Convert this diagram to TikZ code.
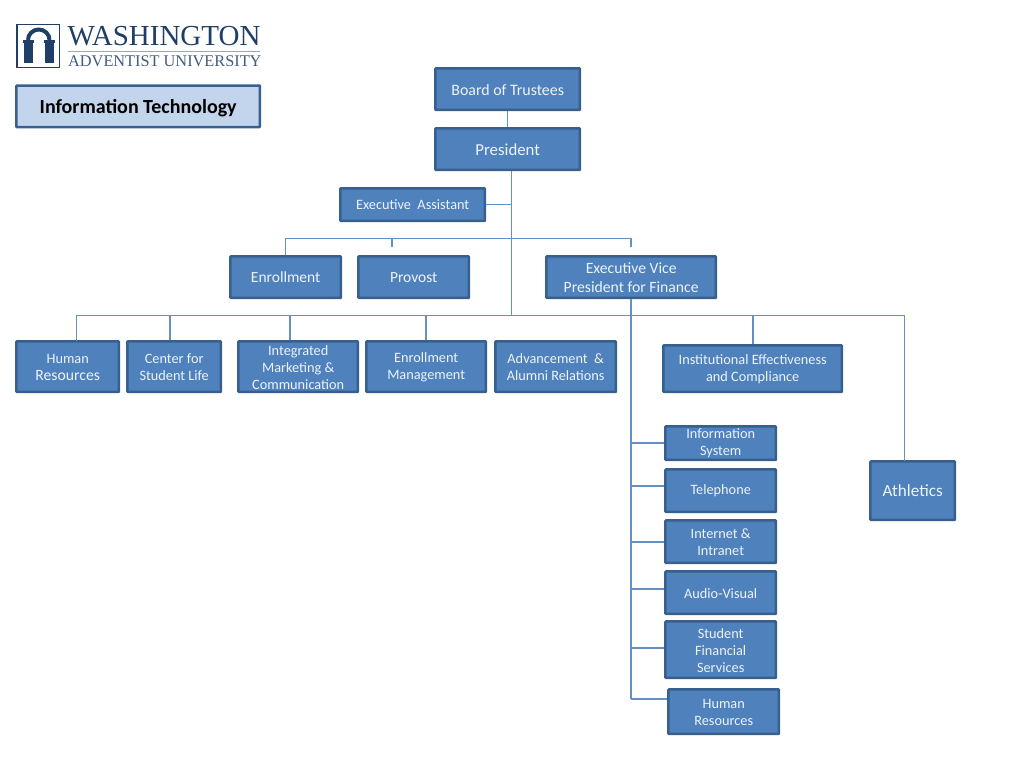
\documentclass[tikz,border=0pt]{standalone}
\usepackage{fontspec}
\setmainfont{Carlito}
\newfontfamily\logofont{Liberation Serif}
\definecolor{boxfill}{HTML}{4F81BD}
\definecolor{boxedge}{HTML}{37608F}
\definecolor{linecol}{HTML}{6490C4}
\definecolor{itfill}{HTML}{C3D5EC}
\definecolor{logoblue}{HTML}{1F3F66}
\tikzset{
  orgbox/.style={draw=boxedge,line width=2.5pt,fill=boxfill,inner sep=0pt,rounded corners=0.6pt},
  orgtext/.style={text=white!90!boxfill,align=center,inner sep=0pt,font=\fontsize{14.3}{17}\selectfont},
  link/.style={draw=linecol,line width=1.2pt},
}
\newcommand{\orgnode}[7][]{%
  \node[orgbox,minimum width=#4pt-#2pt-1.5pt,minimum height=#5pt-#3pt-1.5pt,
    label={[orgtext,anchor=center,yshift=-0.4pt,#1]center:{#7}}] (#6) at ({(#2+#4)/2-0.3},{(#3+#5)/2-0.3}) {};}
\begin{document}
\begin{tikzpicture}[x=1pt,y=-1pt]
\useasboundingbox (0,0) rectangle (1024,768);
% logo
\draw[logoblue,line width=1.2pt] (17,24.5) rectangle (59.5,67.5);
\fill[logoblue] (24,43) rectangle (32.5,62.5);
\fill[logoblue] (45,43) rectangle (53.5,62.5);
\fill[logoblue] (23,40) rectangle (33.5,43);
\fill[logoblue] (44,40) rectangle (54.5,43);
\draw[logoblue,line width=4pt] (28,40) arc[start angle=180,end angle=360,x radius=10.75,y radius=10.5];
\node[anchor=west,inner sep=0pt,text=logoblue,font=\logofont\fontsize{29}{30}\selectfont] (logoa) at (67.5,36) {WASHINGTON};
\fill[logoblue!45] (68,51.2) rectangle (260,52.2);
\node[anchor=west,inner sep=0pt,text=logoblue!85,font=\logofont\fontsize{16.3}{17}\selectfont] (logob) at (68,61.5) {ADVENTIST UNIVERSITY};
% title box
\node[orgbox,fill=itfill,minimum width=243.5pt,minimum height=41.5pt,
  label={[anchor=center,inner sep=0pt,yshift=-1.5pt,text=black,font=\fontsize{20}{24}\selectfont\bfseries]center:{Information Technology}}] (it) at (138.2,106.3) {};
% boxes
\orgnode[font=\fontsize{15.9}{19}\selectfont]{435}{68}{581}{111}{board}{Board of Trustees}
\orgnode[font=\fontsize{16.8}{19}\selectfont]{435}{128}{581}{171}{pres}{President}
\orgnode[]{340}{188}{486}{222}{ea}{Executive~ Assistant}
\orgnode[font=\fontsize{15.5}{19}\selectfont]{230}{256}{342}{299}{enr}{Enrollment}
\orgnode[font=\fontsize{15.5}{19}\selectfont]{358}{256}{470}{299}{prov}{Provost}
\orgnode[font=\fontsize{15.7}{19}\selectfont]{546}{256}{717}{299}{evp}{Executive Vice\\President for Finance}
\orgnode[]{16}{341}{120}{393}{hr}{Human\\{\fontsize{15.7}{18}\selectfont Resources}}
\orgnode[]{127}{341}{222}{393}{csl}{Center for\\Student Life}
\orgnode[]{238}{341}{359}{393}{imc}{Integrated\\Marketing \&\\Communication}
\orgnode[]{366}{341}{487}{393}{em}{Enrollment\\Management}
\orgnode[]{495}{341}{617}{393}{adv}{Advancement~ \&\\Alumni Relations}
\orgnode[]{663}{345}{843}{393}{iec}{Institutional Effectiveness\\and Compliance}
\orgnode[]{665}{426}{777}{461}{info}{Information\\System}
\orgnode[]{665}{469}{777}{513}{tel}{Telephone}
\orgnode[]{665}{520}{777}{564}{inet}{Internet \&\\Intranet}
\orgnode[]{665}{571}{777}{615}{av}{Audio-Visual}
\orgnode[]{665}{621}{777}{679}{sfs}{Student\\Financial\\Services}
\orgnode[]{668}{689}{780}{735}{hrb}{Human\\Resources}
\orgnode[font=\fontsize{17.1}{20}\selectfont]{870}{461}{956}{521}{ath}{Athletics}
% named junctions
\coordinate (busA) at (511.7,238.7);
\coordinate (busB) at (511.7,315.7);
\coordinate (provEnd) at (392,247);
\coordinate (evpEnd) at (631,247);
\coordinate (finEnd) at (631,699);
\coordinate (hrEnd) at (76.7,341);
\coordinate (athEnd) at (904.7,461);
% connectors
\draw[link] (board.south) -- (pres.north);
\draw[link] (pres.south -| busB) -- (busB);
\draw[link] (ea.east) -- (ea.east -| busB);
\draw[link] (enr.north) -- (enr.north |- busA) -- (evpEnd |- busA) -- (evpEnd);
\draw[link] (provEnd |- busA) -- (provEnd);
\draw[link] (evp.south -| finEnd) -- (finEnd);
\draw[link] (hrEnd) -- (hrEnd |- busB) -- (athEnd |- busB) -- (athEnd);
\foreach \n/\x in {csl/170,imc/290,em/426,iec/753}
  \draw[link] (\x,315.7) -- (\x,0 |- \n.north);
\foreach \n/\y in {info/443,tel/486,inet/542,av/589,sfs/648,hrb/699}
  \draw[link] (631,\y) -- (\n.west |- 0,\y);
\end{tikzpicture}
\end{document}
